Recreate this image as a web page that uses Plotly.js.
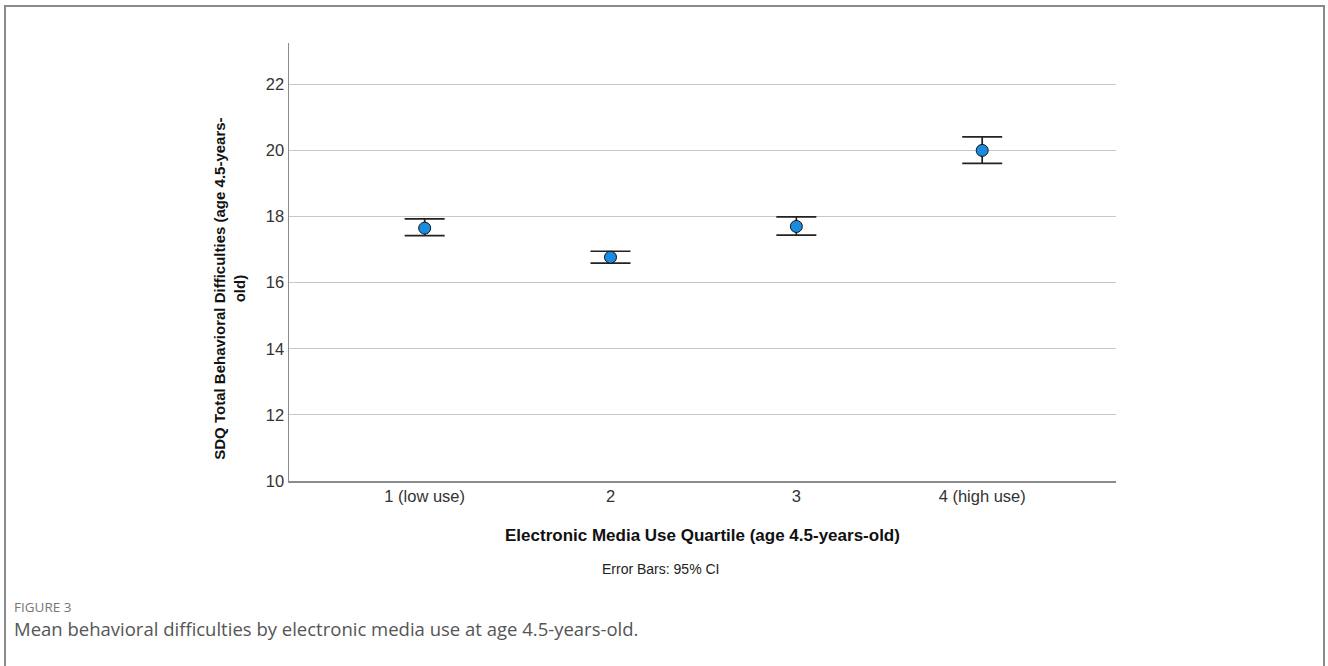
<!DOCTYPE html>
<html>
<head>
<meta charset="utf-8">
<script src="https://cdn.plot.ly/plotly-3.0.1.min.js"></script>
<style>
  html, body { margin: 0; padding: 0; background: #fff; }
  #wrap { position: relative; width: 1328px; height: 666px; overflow: hidden; }
  #frame { position: absolute; left: 4px; top: 5px; width: 1321px; height: 700px;
           border-left: 2px solid #8a8a8a; border-top: 2px solid #8a8a8a; border-right: 2px solid #8a8a8a;
           pointer-events: none; box-sizing: border-box; }
  #chart { position: absolute; left: 0; top: 0; width: 1328px; height: 666px; }
</style>
</head>
<body>
<div id="wrap">
  <div id="chart"></div>
  <div id="frame"></div>
</div>
<script>
const categories = ['1 (low use)', '2', '3', '4 (high use)'];
const means = [17.65, 16.77, 17.70, 20.00];
const ciUpper = [17.93, 16.95, 17.99, 20.41];
const ciLower = [17.42, 16.59, 17.44, 19.61];
const yTicks = [10, 12, 14, 16, 18, 20, 22];

const plus = means.map((m, i) => ciUpper[i] - m);
const minus = means.map((m, i) => m - ciLower[i]);
const xIdx = categories.map((c, i) => i);

const trace = {
  type: 'scatter',
  mode: 'markers',
  x: xIdx,
  y: means,
  marker: { size: 12, color: '#1a8ce0', line: { color: '#111', width: 1 } },
  error_y: { type: 'data', symmetric: false, array: plus, arrayminus: minus,
             color: '#222', thickness: 1.7, width: 20 },
  hoverinfo: 'skip',
  showlegend: false
};

const layout = {
  width: 1328, height: 666,
  margin: { l: 289, r: 212, t: 43, b: 185 },
  paper_bgcolor: '#fff', plot_bgcolor: '#fff',
  font: { family: 'Liberation Sans, Arial, sans-serif', color: '#333' },
  xaxis: {
    range: [-0.73, 3.72],
    tickvals: xIdx, ticktext: categories,
    showgrid: false, zeroline: false,
    showline: true, linecolor: '#8c8c8c', linewidth: 1.5,
    ticks: '', tickfont: { size: 16.5, color: '#333' },
    fixedrange: true
  },
  yaxis: {
    range: [10, 23.25],
    tickvals: yTicks,
    showgrid: true, gridcolor: '#c8c8c8', gridwidth: 1,
    zeroline: false,
    showline: true, linecolor: '#8c8c8c', linewidth: 1.5,
    ticks: '', tickfont: { size: 16.5, color: '#333' },
    fixedrange: true
  },
  annotations: [
    { xref: 'paper', yref: 'paper', x: -0.072, y: 0.44, xanchor: 'center', yanchor: 'middle',
      text: 'SDQ Total Behavioral Difficulties (age 4.5-years-<br>old)', textangle: -90,
      showarrow: false, font: { size: 15, color: '#111', family: 'Liberation Sans, Arial, sans-serif', weight: 'bold' } },
    { xref: 'paper', yref: 'paper', x: 0.5, y: -0.125, xanchor: 'center', yanchor: 'middle',
      text: '<b>Electronic Media Use Quartile (age 4.5-years-old)</b>',
      showarrow: false, font: { size: 17, color: '#111' } },
    { xref: 'paper', yref: 'paper', x: (660 - 289) / 827, y: -0.2, xanchor: 'center', yanchor: 'middle',
      text: 'Error Bars: 95% CI',
      showarrow: false, font: { size: 14, color: '#222' } },
    { xref: 'paper', yref: 'paper', x: -0.335, y: -0.287, xanchor: 'left', yanchor: 'middle',
      text: 'FIGURE 3',
      showarrow: false, font: { size: 13.5, color: '#777', family: 'Open Sans, Lato, sans-serif' } },
    { xref: 'paper', yref: 'paper', x: -0.335, y: -0.337, xanchor: 'left', yanchor: 'middle',
      text: 'Mean behavioral difficulties by electronic media use at age 4.5-years-old.',
      showarrow: false, font: { size: 18.5, color: '#555', family: 'Open Sans, Lato, sans-serif' } }
  ]
};

Plotly.newPlot('chart', [trace], layout, { displayModeBar: false, staticPlot: true });
</script>
</body>
</html>
